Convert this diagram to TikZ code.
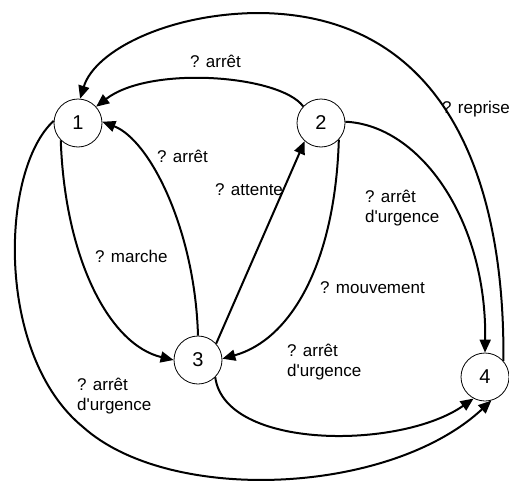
\documentclass[tikz,border=0pt]{standalone}
\usepackage{fontspec}
\setmainfont{Liberation Sans}[Ligatures=TeXOff]
\usetikzlibrary{arrows.meta}
\begin{document}
\begin{tikzpicture}[x=1pt,y=-1pt,
  state/.style={circle,draw,line width=0.8pt,minimum size=48pt,inner sep=0pt,font=\fontsize{20}{24}\selectfont},
  edge/.style={line width=2pt,-{Triangle[length=13pt,width=11pt]}},
  lbl/.style={anchor=base west,inner sep=0pt,font=\fontsize{17}{20}\selectfont}]
\useasboundingbox (0,0) rectangle (509,482);
\node[state] (n1) at (78,123) {1};
\node[state] (n2) at (321,123) {2};
\node[state] (n3) at (198,360) {3};
\node[state] (n4) at (485,377) {4};

\draw[edge] (n4.41) .. controls (505,170) and (440,15) .. (260,13) .. controls (170,13) and (95,50) .. (n1.85);
\draw[edge] (n2.137) .. controls (280,75) and (150,65) .. (n1.42);
\draw[edge] (n3.90) .. controls (195,230) and (150,140) .. (n1.3);
\draw[edge] (n1.225) .. controls (65,260) and (110,345) .. (n3.180);
\draw[edge] (n3.42) -- (n2.228);
\draw[edge] (n2.317) .. controls (335,265) and (290,340) .. (n3.3);
\draw[edge] (n2.3) .. controls (420,125) and (487,220) .. (n4.90);
\draw[edge] (n3.315) .. controls (225,450) and (400,450) .. (n4.242);
\draw[edge] (n1.175) .. controls (0,170) and (-5,355) .. (83,427) .. controls (170,505) and (390,495) .. (n4.285);

\node[lbl] (lrep) at (442,113) {? reprise};
\node[lbl] (la1) at (190,67) {? arrêt};
\node[lbl] (la2) at (157,162) {? arrêt};
\node[lbl] (latt) at (215,195) {? attente};
\node[lbl] (lmar) at (95,262) {? marche};
\node[lbl] (lmov) at (320,293) {? mouvement};
\node[lbl] (lu24) at (365,202) {\begin{tabular}[t]{@{}l@{}}? arrêt\\d'urgence\end{tabular}};
\node[lbl] (lu34) at (287,356) {\begin{tabular}[t]{@{}l@{}}? arrêt\\d'urgence\end{tabular}};
\node[lbl] (lu14) at (77,390) {\begin{tabular}[t]{@{}l@{}}? arrêt\\d'urgence\end{tabular}};
\end{tikzpicture}
\end{document}
